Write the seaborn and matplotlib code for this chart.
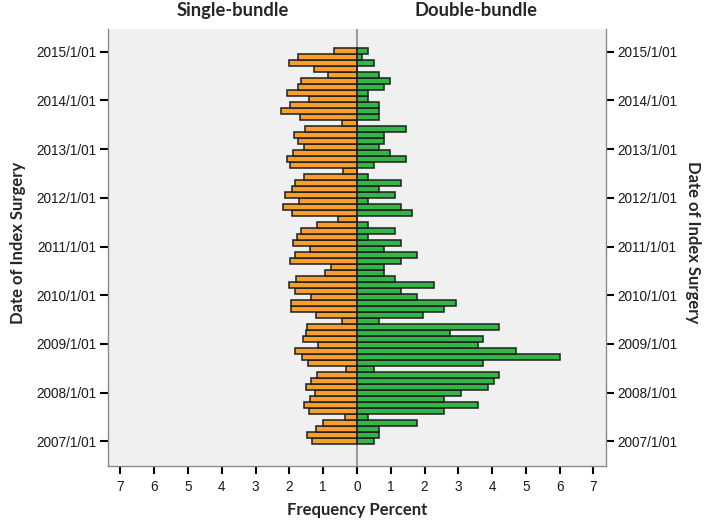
import numpy as np
import pandas as pd
import matplotlib
matplotlib.use('Agg')
import matplotlib.pyplot as plt
import matplotlib.dates as mdates
import seaborn as sns

# Bins of 45 days, oldest first
bin_start = "2006-12-09"
bin_days = 45

single_pct = [
    1.33, 1.49, 1.20, 1.01, 0.35, 1.43, 1.57, 1.39, 1.25, 1.50,
    1.37, 1.19, 0.33, 1.45, 1.62, 1.82, 1.15, 1.60, 1.52, 1.48,
    0.44, 1.21, 1.96, 1.96, 1.37, 1.84, 2.02, 1.79, 0.96, 0.78,
    1.97, 1.84, 1.40, 1.88, 1.78, 1.67, 1.18, 0.56, 1.92, 2.20,
    1.73, 2.14, 1.92, 1.84, 1.58, 0.42, 1.98, 2.08, 1.89, 1.58,
    1.76, 1.86, 1.53, 0.44, 1.69, 2.25, 1.98, 1.42, 2.06, 1.75,
    1.66, 0.86, 1.27, 2.00, 1.75, 0.69,
]

double_pct = [
    0.49, 0.65, 0.65, 1.78, 0.32, 2.59, 3.57, 2.59, 3.08, 3.89,
    4.05, 4.21, 0.49, 3.73, 6.00, 4.70, 3.57, 3.73, 2.76, 4.21,
    0.65, 1.94, 2.59, 2.92, 1.78, 1.30, 2.27, 1.13, 0.81, 0.81,
    1.30, 1.78, 0.81, 1.30, 0.32, 1.13, 0.32, 0.00, 1.62, 1.30,
    0.32, 1.13, 0.65, 1.30, 0.32, 0.00, 0.49, 1.46, 0.97, 0.65,
    0.81, 0.81, 1.46, 0.00, 0.65, 0.65, 0.65, 0.32, 0.32, 0.81,
    0.97, 0.65, 0.00, 0.49, 0.16, 0.32,
]

tick_years = list(range(2007, 2016))
x_ticks = list(range(-7, 8))

ORANGE = '#F5A02A'
GREEN = '#35B44A'
EDGE = '#1e1e1e'

starts = pd.date_range(bin_start, periods=len(single_pct), freq=f"{bin_days}D")
mids = mdates.date2num(starts + pd.Timedelta(days=bin_days / 2))
df = pd.DataFrame({
    'mid': mids,
    'single': -np.array(single_pct),
    'double': np.array(double_pct),
})

sns.set_style('white')
plt.rcParams['font.family'] = ['Liberation Sans', 'DejaVu Sans']

fig = plt.figure(figsize=(7.08, 5.27), dpi=100)
ax = fig.add_axes([0.1525, 0.1157, 0.7034, 0.8292])
ax.set_facecolor('#F0F0F0')

sns.barplot(data=df, x='single', y='mid', orient='y', native_scale=True,
            width=1, color=ORANGE, saturation=1, edgecolor=EDGE,
            linewidth=1.1, errorbar=None, ax=ax, zorder=2)
sns.barplot(data=df, x='double', y='mid', orient='y', native_scale=True,
            width=1, color=GREEN, saturation=1, edgecolor=EDGE,
            linewidth=1.1, errorbar=None, ax=ax, zorder=2)

ax.axvline(0, color='#8c8c8c', lw=1.2, zorder=1)

jan1 = [mdates.date2num(pd.Timestamp(f"{y}-01-01")) for y in tick_years]
ax.set_ylim(jan1[0] - 185, jan1[-1] + 170)
ax.set_yticks(jan1)
ax.set_yticklabels([f"{y}/1/01" for y in tick_years])

ax.set_xlim(-7.37, 7.37)
ax.set_xticks(x_ticks)
ax.set_xticklabels([str(abs(t)) for t in x_ticks])

ax.tick_params(axis='y', left=True, right=True, labelleft=True, labelright=True,
               length=6, width=1.5, color='black', labelsize=9.8, pad=2,
               labelcolor='#1a1a1a')
ax.tick_params(axis='x', bottom=True, length=6, width=1.5, color='black',
               labelsize=9.8, pad=4, labelcolor='#1a1a1a')
ax.set_xlabel('')
ax.set_ylabel('')

for side in ['left', 'right', 'bottom']:
    ax.spines[side].set_color('#8c8c8c')
    ax.spines[side].set_linewidth(1)
ax.spines['top'].set_visible(False)

label_font = dict(family='Lato', fontweight='bold', fontsize=12)
title_font = dict(family='Lato', fontweight='bold', fontsize=13.2)
ax.text(0.251, 1.0435, 'Single-bundle', transform=ax.transAxes,
        ha='center', va='center', **title_font)
ax.text(0.739, 1.0435, 'Double-bundle', transform=ax.transAxes,
        ha='center', va='center', **title_font)
fig.text(0.504, 0.032, 'Frequency Percent', ha='center', va='center', **label_font)
fig.text(0.026, 0.54, 'Date of Index Surgery', ha='center', va='center',
         rotation=90, **label_font)
fig.text(0.979, 0.54, 'Date of Index Surgery', ha='center', va='center',
         rotation=270, **label_font)

fig.savefig('out.png', dpi=100)
plt.close(fig)
